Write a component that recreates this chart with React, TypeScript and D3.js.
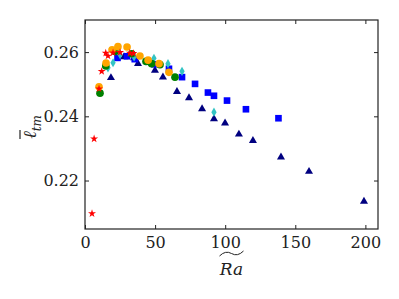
import React, { useEffect, useRef } from "react";
import * as d3 from "d3";

// series: [Ra, l_tm]
const redStars = [
  [5.0, 0.2097], [6.5, 0.233], [10.0, 0.2486], [11.9, 0.254], [14.8, 0.2597],
  [16.4, 0.2588], [20.0, 0.2598], [25.0, 0.2599], [32.0, 0.2597], [34.5, 0.2596],
];
const orangeCircles = [
  [10.0, 0.2492], [15.0, 0.2566], [19.3, 0.2607], [23.5, 0.2617], [30.0, 0.2616],
  [39.2, 0.2588], [45.0, 0.2575], [52.8, 0.2564], [59.9, 0.2537],
];
const greenCircles = [
  [10.7, 0.2472], [14.8, 0.2557], [21.4, 0.2602], [33.3, 0.2595], [43.5, 0.2571],
  [47.5, 0.2564], [53.5, 0.2561], [64.2, 0.2522],
];
const cyanDiamonds = [
  [16.4, 0.2551], [20.0, 0.2567], [25.0, 0.2592], [35.0, 0.2585], [49.2, 0.2581],
  [59.2, 0.2564], [69.2, 0.254], [92.0, 0.2413],
];
const blueSquares = [
  [23.2, 0.2582], [30.0, 0.2587], [35.5, 0.2578], [44.9, 0.257], [49.5, 0.2562],
  [59.9, 0.2548], [69.2, 0.2522], [78.5, 0.2501], [87.7, 0.2474], [92.0, 0.2464],
  [101.3, 0.2449], [114.8, 0.2422], [138.0, 0.2394],
];
const navyTriangles = [
  [18.5, 0.252], [27.8, 0.2585], [35.0, 0.2582], [37.8, 0.2564], [49.9, 0.2543],
  [55.6, 0.2522], [65.6, 0.2477], [74.2, 0.2457], [83.5, 0.2423], [92.0, 0.2392],
  [99.9, 0.2379], [109.8, 0.2344], [119.8, 0.2324], [139.8, 0.2273], [159.8, 0.2228],
  [199.0, 0.2135],
];
const xTicks = [0, 50, 100, 150, 200];
const yTicks = [0.22, 0.24, 0.26];

const App = () => {
  const svgRef = useRef<SVGSVGElement>(null);

  useEffect(() => {
    const svg = d3.select(svgRef.current);
    svg.selectAll("*").remove();

    const left = 85, right = 378, top = 20, bottom = 229;
    const x = d3.scaleLinear().domain([0, 209]).range([left, right]);
    const y = d3.scaleLinear().domain([0.2049, 0.27]).range([bottom, top]);
    const font = "'DejaVu Serif', 'Liberation Serif', serif";

    // markers
    const series: [number[][], d3.SymbolType, number, string][] = [
      [navyTriangles, d3.symbolTriangle, 28, "#000080"],
      [blueSquares, d3.symbolSquare, 44, "#0000ff"],
      [cyanDiamonds, d3.symbolDiamond, 24, "#33c4c4"],
      [greenCircles, d3.symbolCircle, 46, "#008000"],
      [orangeCircles, d3.symbolCircle, 46, "#ffa500"],
      [redStars, d3.symbolStar, 20, "#ff0000"],
    ];
    series.forEach(([data, type, size, color]) => {
      svg
        .append("g")
        .selectAll("path")
        .data(data)
        .enter()
        .append("path")
        .attr("d", d3.symbol().type(type).size(size)())
        .attr("transform", (d) => `translate(${x(d[0])},${y(d[1])})`)
        .attr("fill", color);
    });

    // frame
    svg
      .append("rect")
      .attr("x", left)
      .attr("y", top)
      .attr("width", right - left)
      .attr("height", bottom - top)
      .attr("fill", "none")
      .attr("stroke", "#222")
      .attr("stroke-width", 1.2);

    const tickLen = 4;
    const axisB = d3.axisBottom(x).tickValues(xTicks).tickSizeInner(-tickLen).tickSizeOuter(0).tickPadding(8);
    const axisT = d3.axisTop(x).tickValues(xTicks).tickSizeInner(-tickLen).tickSizeOuter(0).tickFormat(() => "");
    const axisL = d3.axisLeft(y).tickValues(yTicks).tickSizeInner(-tickLen).tickSizeOuter(0).tickPadding(6).tickFormat(d3.format(".2f"));
    const axisR = d3.axisRight(y).tickValues(yTicks).tickSizeInner(-tickLen).tickSizeOuter(0).tickFormat(() => "");

    const drawAxis = (axis: any, tx: number, ty: number) => {
      const g = svg
        .append("g")
        .attr("transform", `translate(${tx},${ty})`)
        .call(axis)
        .attr("font-family", font)
        .attr("font-size", 16);
      g.select(".domain").remove();
      g.selectAll("line").attr("stroke", "#222").attr("stroke-width", 1);
      g.selectAll("text").attr("fill", "#222");
    };
    drawAxis(axisB, 0, bottom);
    drawAxis(axisT, 0, top);
    drawAxis(axisL, left, 0);
    drawAxis(axisR, right, 0);

    // x label: Ra with a wide tilde
    const cx = (left + right) / 2;
    svg
      .append("text")
      .attr("x", cx)
      .attr("y", 275)
      .attr("text-anchor", "middle")
      .attr("font-family", font)
      .attr("font-style", "italic")
      .attr("font-size", 17)
      .attr("fill", "#222")
      .text("Ra");
    svg
      .append("path")
      .attr("d", `M${cx - 12},256 Q${cx - 6},250 ${cx},253.5 T${cx + 12},251`)
      .attr("fill", "none")
      .attr("stroke", "#222")
      .attr("stroke-width", 1);

    // y label: l-bar sub tm, rotated
    const yl = svg.append("g").attr("transform", "translate(36,127) rotate(-90)");
    const t = yl
      .append("text")
      .attr("text-anchor", "middle")
      .attr("font-family", font)
      .attr("font-style", "italic")
      .attr("font-size", 18)
      .attr("fill", "#222");
    t.append("tspan").text("\u2113");
    t.append("tspan").attr("font-size", 12).attr("dy", 5).text("tm");
    yl.append("line")
      .attr("x1", -12)
      .attr("x2", -3)
      .attr("y1", -16)
      .attr("y2", -16)
      .attr("stroke", "#222")
      .attr("stroke-width", 1.2);
  }, []);

  return (
    <svg
      ref={svgRef}
      width={399}
      height={299}
      style={{ position: "absolute", left: 0, top: 0, background: "#fff" }}
    />
  );
};

export default App;
